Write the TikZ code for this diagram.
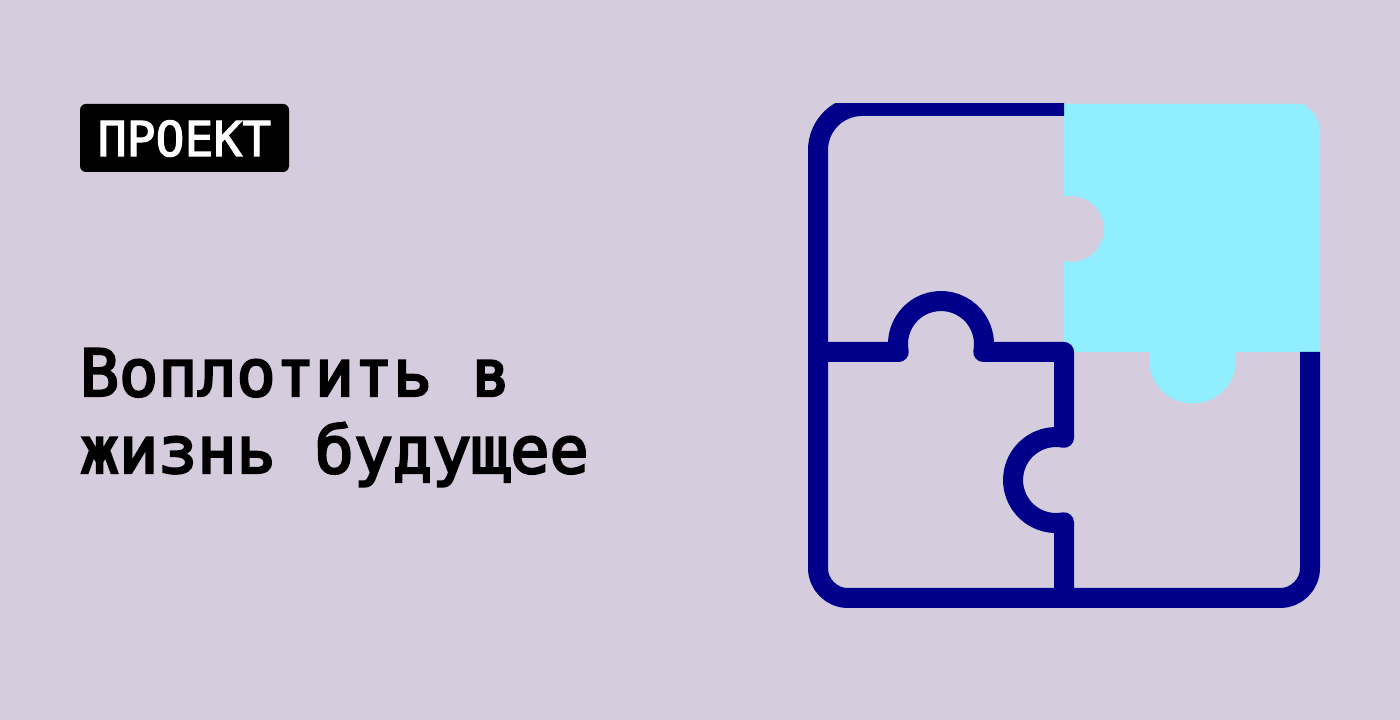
\documentclass[tikz,border=0pt]{standalone}
\usepackage{fontspec}
\setmainfont{DejaVu Sans Mono}
\newfontfamily\titlefont[FakeBold=3.5]{DejaVu Sans Mono}
\newfontfamily\badgefont[FakeBold=2.5]{DejaVu Sans Mono}
\definecolor{bgc}{RGB}{213,204,221}
\definecolor{navyc}{RGB}{0,0,139}
\definecolor{cyanc}{RGB}{144,238,254}
\tikzset{
  frameline/.style={draw=navyc,line width=20pt,line cap=butt,line join=round},
  seamline/.style={draw=navyc,line width=20pt,line cap=round,line join=round},
  titletext/.style={anchor=base west,inner sep=0pt,outer sep=0pt,text=black,font=\titlefont\fontsize{65}{78}\selectfont},
  badgebox/.style={fill=black,rounded corners=6pt,draw=none},
  badgetext/.style={anchor=base,inner sep=0pt,outer sep=0pt,text=white,font=\badgefont\fontsize{48}{58}\selectfont}
}
\begin{document}
\begin{tikzpicture}[x=1pt,y=1pt]
\useasboundingbox (0,0) rectangle (1400,720);
\fill[bgc] (0,0) rectangle (1400,720);
% badge
\path[badgebox] (80,548) rectangle (289,616);
\node[badgetext] (badge) at (184.5,564) {ПРОЕКТ};
% title
\node[titletext] (line1) at (80,324) {Воплотить в};
\node[titletext] (line2) at (80,247) {жизнь будущее};
% puzzle
\begin{scope}
\clip (808,112) rectangle (1320,616);
\fill[cyanc] (1064,616) -- (1302.75,616) arc[start angle=61.5,end angle=0,radius=33]
  -- (1320,368) -- (1235.26,368) arc[start angle=10.6,end angle=-190.6,radius=43.5]
  -- (1064,368) -- (1064,458.75) arc[start angle=-102.2,end angle=102.2,radius=33] -- cycle;
\path[frameline] (1064,614) -- (862,614) arc[start angle=90,end angle=180,radius=44]
  -- (818,152) arc[start angle=180,end angle=270,radius=30]
  -- (1280,122) arc[start angle=270,end angle=360,radius=30] -- (1310,368);
\path[seamline] (818,368) -- (898.75,368) arc[start angle=190.7,end angle=-10.7,radius=43]
  -- (1064,368) -- (1064,282.2) arc[start angle=79.3,end angle=280.7,radius=43] -- (1064,122);
\end{scope}
\end{tikzpicture}
\end{document}
